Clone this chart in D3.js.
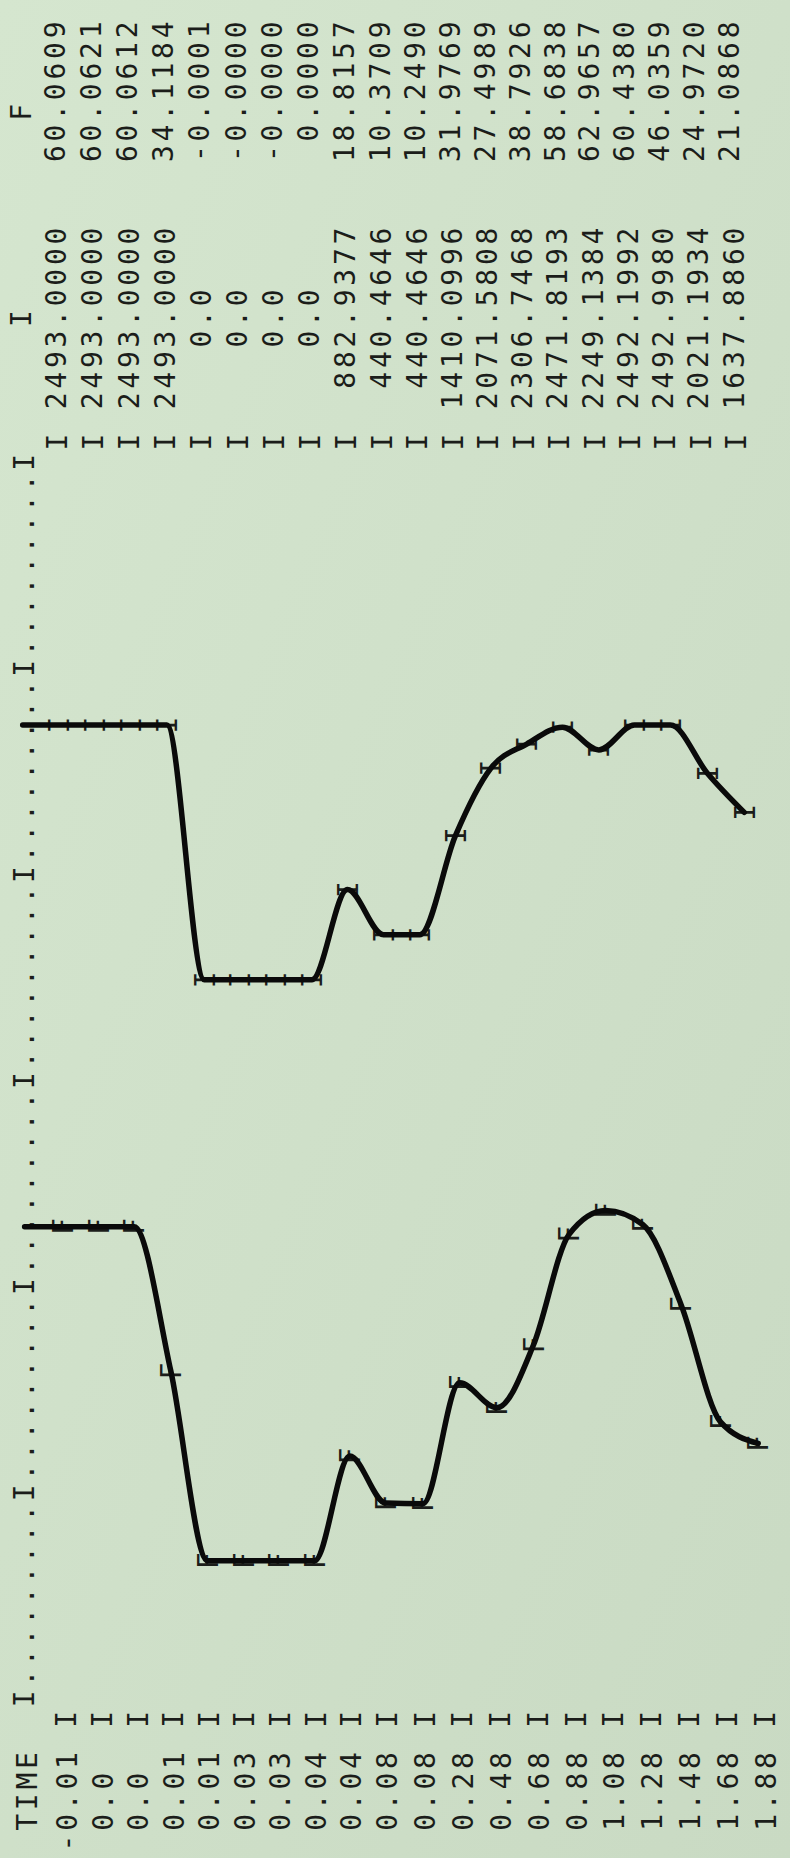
<!DOCTYPE html>
<html>
<head>
<meta charset="utf-8">
<script src="https://cdn.jsdelivr.net/npm/d3@7"></script>
<style>
  html, body { margin: 0; padding: 0; background: #cfdfca; }
  svg { display: block; }
  text { font-family: "DejaVu Sans Mono", "Liberation Mono", monospace; }
</style>
</head>
<body>
<div id="canvas"></div>
<script>
"use strict";

/* ===============================
   Configuration */
let svgWidth = 790;
let svgHeight = 1858;
let fontSize = 28;
let inkText = "#1b1d1a";
let inkPen = "#0a0a0a";

/* ===============================
   Data, as printed (one printer line per time step) */
let headerTime = "TIME";
let headerI = "I";
let headerF = "F";

let timeLabels = ["-0.01", "0.0", "0.0", "0.01", "0.01", "0.03", "0.03", "0.04", "0.04", "0.08",
                  "0.08", "0.28", "0.48", "0.68", "0.88", "1.08", "1.28", "1.48", "1.68", "1.88"];

let iText = ["2493.0000", "2493.0000", "2493.0000", "2493.0000", "0.0", "0.0", "0.0", "0.0",
             "882.9377", "440.4646", "440.4646", "1410.0996", "2071.5808", "2306.7468",
             "2471.8193", "2249.1384", "2492.1992", "2492.9980", "2021.1934", "1637.8860"];

let fText = ["60.0609", "60.0621", "60.0612", "34.1184", "-0.0001", "-0.0000", "-0.0000", "0.0000",
             "18.8157", "10.3709", "10.2490", "31.9769", "27.4989", "38.7926", "58.6838",
             "62.9657", "60.4380", "46.0359", "24.9720", "21.0868"];

let iValues = iText.map(Number);
let fValues = fText.map(Number);

/* printer axis: an I every 10 columns, dots between */
let axisFirstCol = 7;
let axisLastCol = 67;
let axisStep = 10;

/* ===============================
   Canvas */
let svg = d3.select("#canvas")
  .append("svg")
  .attr("width", svgWidth)
  .attr("height", svgHeight);

let defs = svg.append("defs");
let paper = defs.append("linearGradient")
  .attr("id", "paper")
  .attr("x1", "0").attr("y1", "0")
  .attr("x2", "1").attr("y2", "1");
paper.append("stop").attr("offset", "0").attr("stop-color", "#d5e6cf");
paper.append("stop").attr("offset", "1").attr("stop-color", "#c9dac3");

svg.append("rect")
  .attr("width", svgWidth)
  .attr("height", svgHeight)
  .attr("fill", "url(#paper)");

/* ===============================
   Scales
   The printout is photographed turned on its side: character columns run
   bottom -> top, printer lines run left -> right (slightly keystoned). */
let colY = d3.scaleLinear().domain([0, 88]).range([1843, 30]);
let pitch = colY(0) - colY(1);
let letterSpace = pitch - 0.602 * fontSize;
let capHalf = 0.729 * fontSize / 2;
let glyphHalf = 0.301 * fontSize;

/* line index -> x, at bottom and at top of the sheet (-1 = header line) */
let lineXBottom = d3.scaleLinear().domain([-1, 0, 9, 19]).range([27, 67, 387, 767]);
let lineXTop = d3.scaleLinear().domain([-1, 0, 9, 19]).range([20, 54, 380, 727]);

function lineX(i, y) {
  let t = (colY(0) - y) / (colY(0) - colY(88));
  return d3.interpolateNumber(lineXBottom(i), lineXTop(i))(t);
}

/* value -> printer column, one scale per plotted variable */
let iCol = d3.scaleLinear().domain([0, 2500]).range([41.9, 54.3]);
let fCol = d3.scaleLinear().domain([0, 60]).range([13.7, 29.9]);

function yOfI(v) { return colY(iCol(v)); }
function yOfF(v) { return colY(fCol(v)); }

/* ===============================
   Printed text */
let printed = svg.append("g")
  .attr("fill", inkText)
  .attr("font-size", fontSize)
  .attr("letter-spacing", letterSpace.toFixed(2));

function printAt(str, col, line) {
  let yMid = colY(col + (str.length - 1) / 2);
  let x = lineX(line, yMid) + capHalf;
  let y = colY(col) + glyphHalf;
  printed.append("text")
    .attr("transform", "translate(" + x.toFixed(1) + "," + y.toFixed(1) + ") rotate(-90)")
    .text(str);
}

/* header line */
let axisString = "";
for (let c = axisFirstCol; c <= axisLastCol; c = c + 1) {
  axisString += ((c - axisFirstCol) % axisStep === 0) ? "I" : ".";
}
printAt(headerTime, 1, -1);
printAt(axisString, axisFirstCol, -1);
printAt(headerI, 74, -1);
printAt(headerF, 84, -1);

/* one line per time step */
for (let k = 0; k < timeLabels.length; k = k + 1) {
  let lab = timeLabels[k];
  printAt(lab, lab.charAt(0) === "-" ? 0 : 1, k);
  printAt("I", 6, k);
  printAt("I", 68, k);
  printAt(iText[k], 74 - iText[k].indexOf("."), k);
  printAt(fText[k], 84 - fText[k].indexOf("."), k);
}

/* plotted symbols on each printer line */
let rows = timeLabels.map(function (t, k) {
  return { k: k, iv: iValues[k], fv: fValues[k] };
});

printed.selectAll("text.markI")
  .data(rows)
  .join("text")
  .attr("class", "markI")
  .attr("transform", function (d) {
    let y = yOfI(d.iv);
    return "translate(" + (lineX(d.k, y) + capHalf).toFixed(1) + "," + (y + glyphHalf).toFixed(1) + ") rotate(-90)";
  })
  .text("I");

printed.selectAll("text.markF")
  .data(rows)
  .join("text")
  .attr("class", "markF")
  .attr("transform", function (d) {
    let y = yOfF(d.fv);
    return "translate(" + (lineX(d.k, y) + capHalf).toFixed(1) + "," + (y + glyphHalf).toFixed(1) + ") rotate(-90)";
  })
  .text("F");

/* ===============================
   Hand-drawn pen curves (start on the axis line) */
function penPath(values, yOf) {
  let pts = [{ k: -1, v: values[0] }].concat(values.map(function (v, k) { return { k: k, v: v }; }));
  let line = d3.line()
    .x(function (d) { return lineX(d.k, yOf(d.v)); })
    .y(function (d) { return yOf(d.v); })
    .curve(d3.curveMonotoneX);
  return line(pts);
}

svg.append("path")
  .attr("d", penPath(iValues, yOfI))
  .attr("fill", "none")
  .attr("stroke", inkPen)
  .attr("stroke-width", 5.5)
  .attr("stroke-linejoin", "round")
  .attr("stroke-linecap", "round");

svg.append("path")
  .attr("d", penPath(fValues, yOfF))
  .attr("fill", "none")
  .attr("stroke", inkPen)
  .attr("stroke-width", 5.5)
  .attr("stroke-linejoin", "round")
  .attr("stroke-linecap", "round");
</script>
</body>
</html>
